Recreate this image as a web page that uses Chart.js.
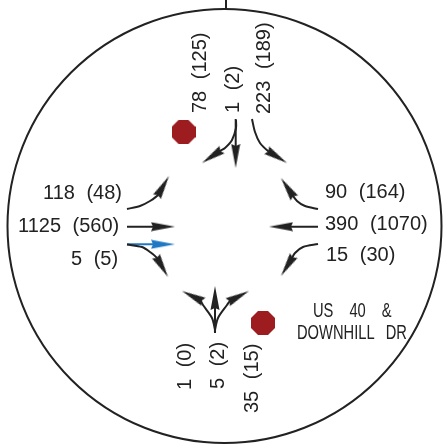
<!DOCTYPE html>
<html>
<head>
<meta charset="utf-8">
<title>US 40 & Downhill Dr</title>
<script src="https://cdn.jsdelivr.net/npm/chart.js@4/dist/chart.umd.js"></script>
<style>
  html, body { margin: 0; padding: 0; background: #fff; }
  canvas { display: block; }
</style>
</head>
<body>
<canvas id="tmc" width="443" height="445"></canvas>
<script>
"use strict";

// peak hour volumes, am (pm), each approach listed left to right as drawn
var southAm = [ 78, 1, 223 ];
var southPm = [ 125, 2, 189 ];
var eastAm  = [ 118, 1125, 5 ];
var eastPm  = [ 48, 560, 5 ];
var westAm  = [ 90, 390, 15 ];
var westPm  = [ 164, 1070, 30 ];
var northAm = [ 1, 5, 35 ];
var northPm = [ 0, 2, 15 ];

var titleLines = [ "US 40 &", "DOWNHILL DR" ];

// arrow paths, in picture units: curve first, then the tip of the head
var sbRight   = [ [ 236, 120 ], [ 236, 128 ], [ 232, 140 ], [ 225, 148 ], [ 220, 151 ], [ 202, 163 ] ];
var sbThrough = [ [ 235.7, 119 ], [ 235.7, 145 ], [ 235.7, 168 ] ];
var sbLeft    = [ [ 252, 119 ], [ 255, 132 ], [ 260, 143 ], [ 268, 151 ], [ 287, 163 ] ];
var ebLeft    = [ [ 127, 209 ], [ 140, 206 ], [ 150, 201 ], [ 158, 195 ], [ 169, 176 ] ];
var ebThrough = [ [ 127, 226.7 ], [ 151, 226.7 ], [ 175, 226.7 ] ];
var ebRight   = [ [ 127, 244.5 ], [ 142, 247 ], [ 150, 252 ], [ 157, 258 ], [ 168, 277 ] ];
var ebBlue    = [ [ 127, 244.3 ], [ 151, 244.3 ], [ 175, 244.3 ] ];
var wbRight   = [ [ 318, 209 ], [ 305, 206 ], [ 297, 201 ], [ 291, 193 ], [ 281, 178 ] ];
var wbThrough = [ [ 318, 226.7 ], [ 293, 226.7 ], [ 269, 226.7 ] ];
var wbLeft    = [ [ 318, 244 ], [ 303, 247 ], [ 295, 253 ], [ 291, 260 ], [ 281, 276 ] ];
var nbLeft    = [ [ 215, 333 ], [ 215, 330 ], [ 212, 318 ], [ 203, 305 ], [ 200, 300 ], [ 182, 291 ] ];
var nbThrough = [ [ 215, 333 ], [ 215, 308 ], [ 215, 286 ] ];
var nbRight   = [ [ 215, 333 ], [ 215, 330 ], [ 218, 318 ], [ 227, 305 ], [ 230, 301 ], [ 249, 291 ] ];

var blackArrows = [ sbRight, sbThrough, sbLeft, ebLeft, ebThrough, ebRight, wbRight, wbThrough, wbLeft, nbLeft, nbThrough, nbRight ];
var blueArrows  = [ ebBlue ];

var stopSigns = [ { x: 183.5, y: 132 }, { x: 263, y: 323 } ];
var ring      = [ { x: 224.5, y: 226 } ];
var stub      = [ { x: 226, y: 0 }, { x: 226, y: 9 } ];

var INK = "#222222", BLUE = "#1f78c4", STOP = "#9c1c20";
var HEAD_LEN = 24;

function headCanvas(color) {
    var c = document.createElement("canvas");
    c.width = 10;
    c.height = HEAD_LEN;
    var g = c.getContext("2d");
    g.fillStyle = color;
    g.beginPath();
    g.moveTo(5, 0);
    g.lineTo(9.5, HEAD_LEN);
    g.lineTo(5, HEAD_LEN - 2);
    g.lineTo(0.5, HEAD_LEN);
    g.closePath();
    g.fill();
    return c;
}

function octagonCanvas(color, size) {
    var c = document.createElement("canvas");
    c.width = c.height = size;
    var g = c.getContext("2d"), r = size / 2 / Math.cos(Math.PI / 8);
    g.fillStyle = color;
    g.beginPath();
    for (var i = 0; i < 8; i++) {
        var a = Math.PI / 8 + i * Math.PI / 4;
        g.lineTo(size / 2 + r * Math.cos(a), size / 2 + r * Math.sin(a));
    }
    g.closePath();
    g.fill();
    return c;
}

function toPoints(path) {
    return path.map(function (p) { return { x: p[0], y: p[1] }; });
}

function arrowDatasets(path, color, head) {
    var tip = path[path.length - 1], back = path[path.length - 2];
    var dx = tip[0] - back[0], dy = tip[1] - back[1], len = Math.sqrt(dx * dx + dy * dy);
    var mid = { x: tip[0] - dx / len * HEAD_LEN / 2, y: tip[1] - dy / len * HEAD_LEN / 2 };
    return [ {
        // shaft runs on into the middle of the head so no gap shows
        data       : toPoints(path.slice(0, -1)).concat([ mid ]),
        showLine   : true,
        borderColor: color,
        borderWidth: 2,
        tension    : 0.3,
        pointRadius: 0
    }, {
        data         : [ mid ],
        pointStyle   : head,
        pointRotation: Math.atan2(dx, -dy) * 180 / Math.PI,
        pointRadius  : HEAD_LEN / 2
    } ];
}

var datasets = [ {
    data            : ring,
    pointRadius     : 217,
    pointBorderWidth: 2,
    pointBorderColor: INK,
    pointBackgroundColor: "rgba(0,0,0,0)"
}, {
    data       : stub,
    showLine   : true,
    borderColor: INK,
    borderWidth: 2,
    pointRadius: 0
}, {
    data       : stopSigns,
    pointStyle : octagonCanvas(STOP, 24),
    pointRadius: 12
} ];

var blackHead = headCanvas(INK), blueHead = headCanvas(BLUE);
blackArrows.forEach(function (a) { datasets = datasets.concat(arrowDatasets(a, INK, blackHead)); });
blueArrows.forEach(function (a) { datasets = datasets.concat(arrowDatasets(a, BLUE, blueHead)); });

function volume(am, pm, i) {
    return am[i] + " (" + pm[i] + ")";
}

// where each text starts: x, y, turned a quarter or not
var textSpots = [
    [ volume(southAm, southPm, 0), 200, 113, true ],
    [ volume(southAm, southPm, 1), 233, 113, true ],
    [ volume(southAm, southPm, 2), 264, 114, true ],
    [ volume(eastAm, eastPm, 0), 43, 193, false ],
    [ volume(eastAm, eastPm, 1), 18, 226, false ],
    [ volume(eastAm, eastPm, 2), 71, 259, false ],
    [ volume(westAm, westPm, 0), 325, 192, false ],
    [ volume(westAm, westPm, 1), 325, 224, false ],
    [ volume(westAm, westPm, 2), 326, 255, false ],
    [ volume(northAm, northPm, 0), 185, 390, true ],
    [ volume(northAm, northPm, 1), 218, 389, true ],
    [ volume(northAm, northPm, 2), 252, 413, true ]
];
// name lines: text, x, y, word gap
var titleSpots = [
    [ titleLines[ 0 ], 313, 311, "17px" ],
    [ titleLines[ 1 ], 297, 333, "10px" ]
];

var textPlugin = {
    id: "tmcText",
    afterDatasetsDraw: function (chart) {
        var ctx = chart.ctx, sx = chart.scales.x, sy = chart.scales.y;
        ctx.save();
        ctx.fillStyle = INK;
        ctx.font = "20px 'Liberation Sans'";
        ctx.textBaseline = "middle";
        ctx.textAlign = "left";
        ctx.wordSpacing = "6px";
        textSpots.forEach(function (t) {
            ctx.save();
            ctx.translate(sx.getPixelForValue(t[ 1 ]), sy.getPixelForValue(t[ 2 ]));
            if (t[ 3 ]) ctx.rotate(-Math.PI / 2);
            ctx.fillText(t[ 0 ], 0, 0);
            ctx.restore();
        });
        // the intersection name is set tall and narrow
        ctx.font = "21px 'Liberation Sans'";
        titleSpots.forEach(function (t) {
            ctx.save();
            ctx.wordSpacing = t[ 3 ];
            ctx.translate(sx.getPixelForValue(t[ 1 ]), sy.getPixelForValue(t[ 2 ]));
            ctx.scale(0.7, 1);
            ctx.fillText(t[ 0 ], 0, 0);
            ctx.restore();
        });
        ctx.restore();
    }
};

new Chart(document.getElementById("tmc"), {
    type   : "scatter",
    data   : { datasets: datasets },
    plugins: [ textPlugin ],
    options: {
        responsive: false,
        animation : false,
        clip      : false,
        layout    : { padding: 0, autoPadding: false },
        plugins   : { legend: { display: false }, tooltip: { enabled: false } },
        scales    : {
            x: { type: "linear", min: 0, max: 443, display: false },
            y: { type: "linear", min: 0, max: 445, reverse: true, display: false }
        }
    }
});
</script>
</body>
</html>
